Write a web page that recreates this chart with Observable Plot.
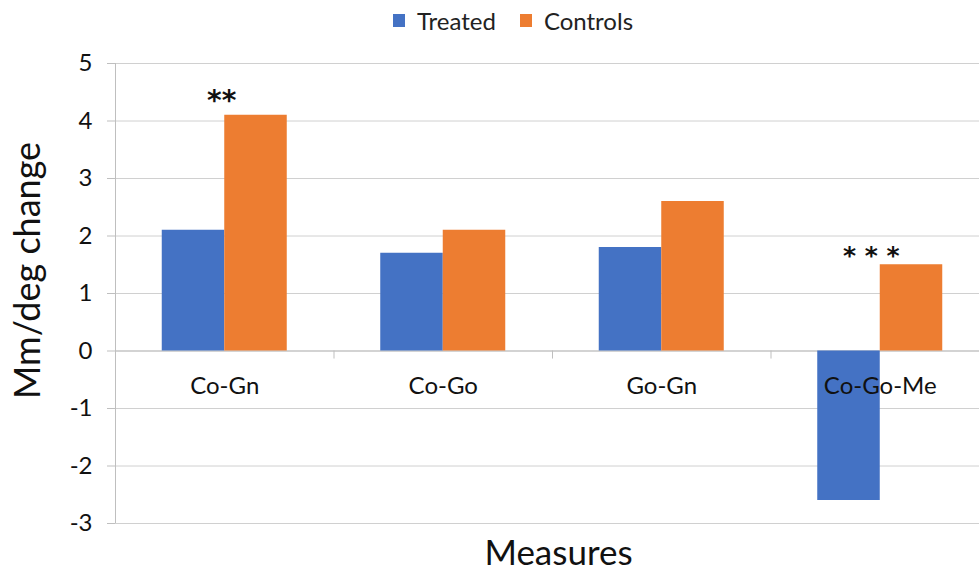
<!DOCTYPE html>
<html><head><meta charset="utf-8">
<script src="https://cdn.jsdelivr.net/npm/d3@7"></script>
<script src="https://cdn.jsdelivr.net/npm/@observablehq/plot@0.6"></script>
<style>
html,body{margin:0;padding:0;background:#fff;overflow:hidden;width:979px;height:573px}
#legend{height:40px;display:flex;align-items:center;padding-left:393px;box-sizing:border-box;font-family:Lato,sans-serif;font-size:24px;color:#222}
.item{display:flex;align-items:center;margin-right:24px}
.sw{width:12px;height:13px;margin-right:12px}
#chart svg{display:block}
</style></head><body>
<div id="legend"></div>
<div id="chart"></div>
<script>
const categories = ["Co-Gn", "Co-Go", "Go-Gn", "Co-Go-Me"];
const seriesNames = ["Treated", "Controls"];
const seriesColors = ["#4472C4", "#ED7D31"];
const treated = [2.1, 1.7, 1.8, -2.6];
const controls = [4.1, 2.1, 2.6, 1.5];
const yTicks = [-3, -2, -1, 0, 1, 2, 3, 4, 5];
const annotationCategories = ["Co-Gn", "Co-Go-Me"];
const annotationLabels = ["**", "* * *"];
const yLabel = "Mm/deg change";
const xLabel = "Measures";

// legend
const legend = document.getElementById("legend");
seriesNames.forEach((n, i) => {
  const it = document.createElement("div");
  it.className = "item";
  it.innerHTML = `<span class="sw" style="background:${seriesColors[i]}"></span><span>${n}</span>`;
  legend.appendChild(it);
});

const width = 979, marginLeft = 115;
const xRange = [marginLeft, marginLeft + 4 * 218.5];
const step = (xRange[1] - xRange[0]) / categories.length;
const barW = 62.5;
const gap = (step - 2 * barW) / 2;
const gridColor = "#d0d0d0";
const axisColor = "#bfbfbf";

const ctrlOf = c => controls[categories.indexOf(c)];

const chart = Plot.plot({
  width, height: 533,
  marginLeft, marginRight: 0, marginTop: 23, marginBottom: 50,
  style: {fontFamily: "Lato, sans-serif", fontSize: "24px", color: "#111", background: "#fff", overflow: "hidden"},
  x: {type: "band", domain: categories, range: xRange, padding: 0, round: false, axis: null},
  y: {domain: [-3, 5], axis: null},
  marks: [
    Plot.gridY(yTicks, {stroke: gridColor, strokeOpacity: 1}),
    Plot.axisY(yTicks, {tickSize: 8, tickPadding: 15, stroke: axisColor, fill: "#111", fontSize: 24, tickFormat: d => (d < 0 ? "-" + Math.abs(d) : String(d))}),
    Plot.ruleX([categories[0]], {x: d => d, dx: -step / 2, y1: -3, y2: 5, stroke: axisColor}),
    Plot.ruleX(categories.slice(1), {x: d => d, dx: -step / 2, y1: 0, y2: -0.14, stroke: axisColor}),
    Plot.ruleY([0], {stroke: axisColor}),
    Plot.barY(categories, {x: d => d, y1: 0, y2: (d, i) => treated[i], fill: seriesColors[0], insetLeft: gap, insetRight: gap + barW}),
    Plot.barY(categories, {x: d => d, y1: 0, y2: (d, i) => controls[i], fill: seriesColors[1], insetLeft: gap + barW, insetRight: gap}),
    Plot.text(categories, {x: d => d, y: () => 0, dy: 35, fontSize: 24, fill: "#111"}),
    Plot.text([annotationLabels[0]], {x: () => annotationCategories[0], y: () => ctrlOf(annotationCategories[0]), dx: -3, dy: -14, fontSize: 28, fontWeight: "bold", fontFamily: "DejaVu Sans", fill: "#111"}),
    Plot.text([annotationLabels[1]], {x: () => annotationCategories[1], y: () => ctrlOf(annotationCategories[1]), dx: -9, dy: -9, fontSize: 25, fontWeight: "bold", fontFamily: "DejaVu Sans", fill: "#111"}),
    Plot.text([yLabel], {frameAnchor: "left", textAnchor: "middle", lineAnchor: "middle", rotate: -90, dx: -87, dy: -23, fontSize: 36, fill: "#111"}),
    Plot.text([xLabel], {frameAnchor: "bottom", textAnchor: "middle", lineAnchor: "middle", dx: 11, dy: 30, fontSize: 35, fill: "#111"})
  ]
});
document.getElementById("chart").appendChild(chart);
</script>
</body></html>
